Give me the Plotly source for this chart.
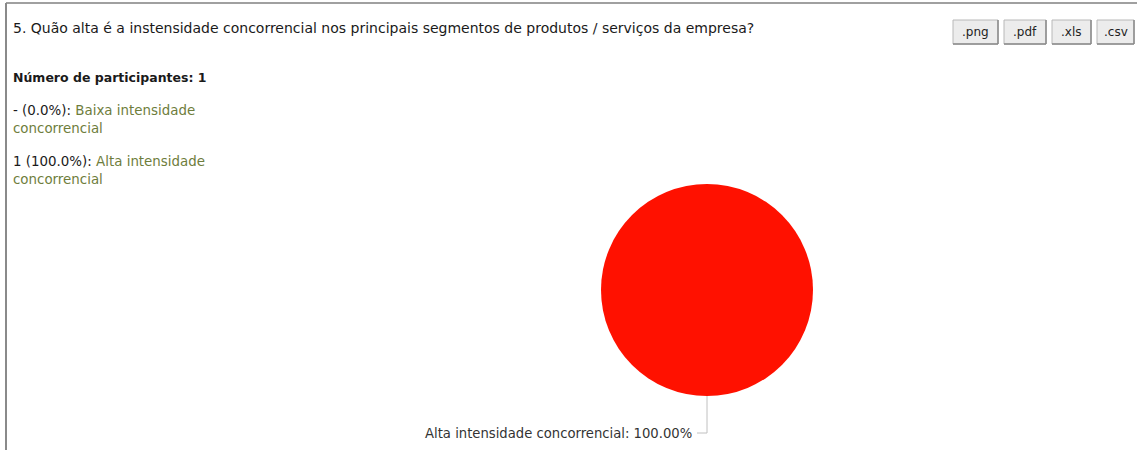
import plotly.graph_objects as go

# Survey question and answers
question = "5. Quão alta é a instensidade concorrencial nos principais segmentos de produtos / serviços da empresa?"
participants = 1
categories = ["Baixa intensidade concorrencial", "Alta intensidade concorrencial"]
counts = [0, 1]
slice_colors = ["#2f7ed8", "#ff1100"]
export_buttons = [".png", ".pdf", ".xls", ".csv"]

W, H = 1137, 450
FONT = "DejaVu Sans"
GREEN = "#6e7d3c"
DARK = "#1a1a1a"

total = sum(counts)

fig = go.Figure()

# Pie chart (only non-empty slices get drawn)
pie_cx, pie_cy, pie_r = 707, 290, 106
fig.add_trace(go.Pie(
    labels=categories,
    values=counts,
    marker=dict(colors=slice_colors, line=dict(width=0)),
    textinfo="none",
    sort=False,
    direction="clockwise",
    rotation=0,
    showlegend=False,
    hoverinfo="label+percent",
    domain=dict(
        x=[(pie_cx - pie_r) / W, (pie_cx + pie_r) / W],
        y=[1 - (pie_cy + pie_r) / H, 1 - (pie_cy - pie_r) / H],
    ),
))

annotations = []
shapes = []

def px(x):
    return x / W

def py(y):
    return 1 - y / H

TX = 11  # left edge of the text column

# Title
annotations.append(dict(
    x=px(TX), y=py(28), xref="paper", yref="paper", xanchor="left", yanchor="middle",
    text=question, showarrow=False, font=dict(family=FONT, size=14, color=DARK),
))

# Participant count
annotations.append(dict(
    x=px(TX), y=py(77), xref="paper", yref="paper", xanchor="left", yanchor="middle",
    text=f"<b>Número de participantes: {participants}</b>", showarrow=False,
    font=dict(family=FONT, size=12.5, color=DARK),
))

# Per-answer summary list
list_top = 110
for i, (cat, n) in enumerate(zip(categories, counts)):
    pct = 100.0 * n / total if total else 0.0
    count_txt = str(n) if n else "-"
    words = cat.split(" ")
    line1 = " ".join(words[:-1])
    line2 = words[-1]
    y1 = list_top + i * 51
    annotations.append(dict(
        x=px(TX), y=py(y1), xref="paper", yref="paper", xanchor="left", yanchor="middle",
        text=f"{count_txt} ({pct:.1f}%): <span style='color:{GREEN}'>{line1}</span>",
        showarrow=False, font=dict(family=FONT, size=13.4, color=DARK),
    ))
    annotations.append(dict(
        x=px(TX), y=py(y1 + 18), xref="paper", yref="paper", xanchor="left", yanchor="middle",
        text=line2, showarrow=False, font=dict(family=FONT, size=13.4, color=GREEN),
    ))

# Data label with leader line for each non-empty slice
for cat, n in zip(categories, counts):
    if n == 0:
        continue
    pct = 100.0 * n / total
    line_x, line_top, line_y, line_end = pie_cx, pie_cy + pie_r, 433, 697
    shapes.append(dict(type="line", xref="paper", yref="paper",
                       x0=px(line_x), y0=py(line_top), x1=px(line_x), y1=py(line_y),
                       line=dict(color="#c0c0c0", width=1)))
    shapes.append(dict(type="line", xref="paper", yref="paper",
                       x0=px(line_x), y0=py(line_y), x1=px(line_end), y1=py(line_y),
                       line=dict(color="#c0c0c0", width=1)))
    annotations.append(dict(
        x=px(line_end - 3), y=py(line_y), xref="paper", yref="paper",
        xanchor="right", yanchor="middle", text=f"{cat}: {pct:.2f}%",
        showarrow=False, font=dict(family=FONT, size=13.2, color="#333333"),
    ))

# Export buttons
btn_bounds = [(953, 998), (1004, 1046), (1052, 1091), (1097, 1134)]
for label, (x0, x1) in zip(export_buttons, btn_bounds):
    y0, y1 = 20, 44
    shapes.append(dict(type="rect", xref="paper", yref="paper",
                       x0=px(x0), x1=px(x1), y0=py(y1), y1=py(y0),
                       fillcolor="#ececec", line=dict(color="#b8b8b8", width=1)))
    shapes.append(dict(type="line", xref="paper", yref="paper",
                       x0=px(x0), x1=px(x1), y0=py(y1), y1=py(y1),
                       line=dict(color="#8a8a8a", width=1.5)))
    shapes.append(dict(type="line", xref="paper", yref="paper",
                       x0=px(x1), x1=px(x1), y0=py(y1), y1=py(y0),
                       line=dict(color="#8a8a8a", width=1.5)))
    annotations.append(dict(
        x=px((x0 + x1) / 2), y=py(32), xref="paper", yref="paper",
        xanchor="center", yanchor="middle", text=label, showarrow=False,
        font=dict(family=FONT, size=12, color="#222222"),
    ))

# Panel border (top and left edges)
shapes.append(dict(type="line", xref="paper", yref="paper",
                   x0=px(6), x1=1, y0=py(3), y1=py(3),
                   line=dict(color="#a0a0a0", width=2)))
shapes.append(dict(type="line", xref="paper", yref="paper",
                   x0=px(6), x1=px(6), y0=py(3), y1=0,
                   line=dict(color="#8a8a8a", width=2)))

fig.update_layout(
    width=W, height=H,
    margin=dict(l=0, r=0, t=0, b=0),
    paper_bgcolor="white", plot_bgcolor="white",
    annotations=annotations, shapes=shapes,
)

fig.write_html("out.html", config={"displayModeBar": False})
